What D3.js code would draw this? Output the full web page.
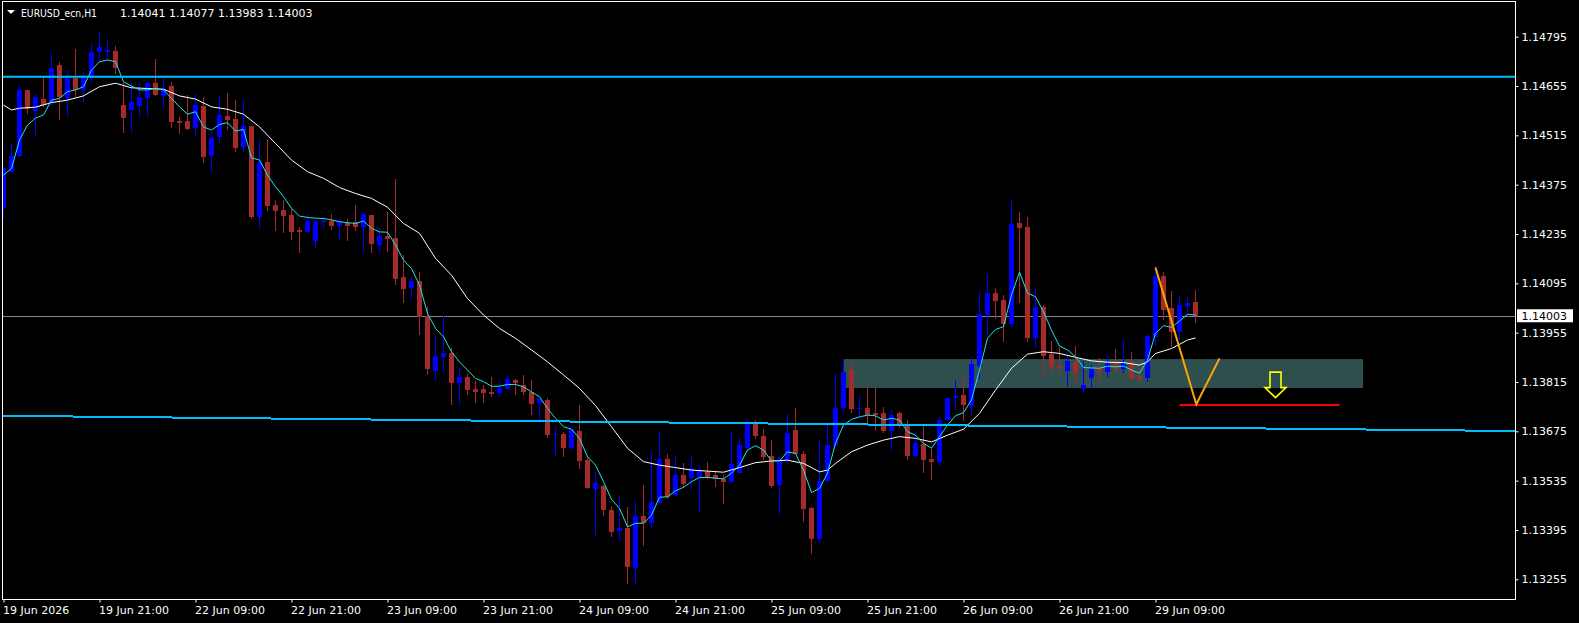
<!DOCTYPE html>
<html>
<head>
<meta charset="utf-8">
<script src="https://cdn.jsdelivr.net/npm/d3@7/dist/d3.min.js"></script>
<style>
html, body { margin: 0; padding: 0; background: #000; overflow: hidden; }
svg { display: block; font-family: "DejaVu Sans", sans-serif; font-size: 11px; }
</style>
</head>
<body>
<div id="chart"></div>
<script>

// EURUSD_ecn H1, 19 Jun 2026 09:00 .. 29 Jun 2026 13:00 (150 bars)
var opens = [
    1.14308, 1.14412, 1.14456, 1.14644, 1.14585, 1.14618, 1.14606, 1.14715, 1.14622, 1.14679,
    1.14644, 1.14679, 1.14751, 1.14752, 1.14754, 1.14601, 1.14587, 1.14599, 1.14622, 1.14664,
    1.14627, 1.14655, 1.14556, 1.14556, 1.14535, 1.14598, 1.14457, 1.14509, 1.14570, 1.14561,
    1.14483, 1.14542, 1.14284, 1.14440, 1.14317, 1.14303, 1.14289, 1.14246, 1.14241, 1.14215,
    1.14270, 1.14272, 1.14258, 1.14265, 1.14268, 1.14256, 1.14289, 1.14204, 1.14229, 1.14223,
    1.14114, 1.14082, 1.14101, 1.14003, 1.13846, 1.13887, 1.13898, 1.13813, 1.13828, 1.13795,
    1.13795, 1.13787, 1.13783, 1.13794, 1.13821, 1.13806, 1.13787, 1.13756, 1.13764, 1.13664,
    1.13667, 1.13628, 1.13676, 1.13593, 1.13511, 1.13520, 1.13451, 1.13392, 1.13401, 1.13288,
    1.13435, 1.13416, 1.13472, 1.13596, 1.13494, 1.13551, 1.13542, 1.13546, 1.13559, 1.13551,
    1.13539, 1.13532, 1.13557, 1.13628, 1.13698, 1.13662, 1.13605, 1.13522, 1.13591, 1.13679,
    1.13611, 1.13458, 1.13369, 1.13534, 1.13636, 1.13740, 1.13849, 1.13737, 1.13742, 1.13726,
    1.13728, 1.13676, 1.13726, 1.13690, 1.13605, 1.13639, 1.13596, 1.13589, 1.13707, 1.13770,
    1.13778, 1.13748, 1.13861, 1.14005, 1.14068, 1.14048, 1.13981, 1.14267, 1.14254, 1.13941,
    1.14028, 1.13894, 1.13861, 1.13846, 1.13872, 1.13795, 1.13825, 1.13854, 1.13844, 1.13870,
    1.13851, 1.13871, 1.13833, 1.13827, 1.13943, 1.14116, 1.14026, 1.13958, 1.14031, 1.14041
];
var highs = [
    1.14422, 1.14490, 1.14658, 1.14644, 1.14632, 1.14677, 1.14749, 1.14723, 1.14700, 1.14760,
    1.14691, 1.14774, 1.14805, 1.14786, 1.14769, 1.14663, 1.14663, 1.14664, 1.14667, 1.14732,
    1.14679, 1.14667, 1.14568, 1.14629, 1.14632, 1.14623, 1.14524, 1.14629, 1.14636, 1.14615,
    1.14618, 1.14542, 1.14505, 1.14502, 1.14331, 1.14331, 1.14308, 1.14256, 1.14291, 1.14275,
    1.14284, 1.14291, 1.14277, 1.14279, 1.14316, 1.14298, 1.14289, 1.14256, 1.14298, 1.14391,
    1.14175, 1.14114, 1.14128, 1.14028, 1.13946, 1.14003, 1.13911, 1.13854, 1.13838, 1.13819,
    1.13806, 1.13828, 1.13818, 1.13835, 1.13823, 1.13835, 1.13821, 1.13769, 1.13769, 1.13686,
    1.13674, 1.13683, 1.13750, 1.13605, 1.13560, 1.13522, 1.13463, 1.13488, 1.13461, 1.13477,
    1.13522, 1.13619, 1.13676, 1.13611, 1.13608, 1.13584, 1.13605, 1.13579, 1.13589, 1.13560,
    1.13551, 1.13674, 1.13657, 1.13709, 1.13707, 1.13681, 1.13650, 1.13605, 1.13724, 1.13742,
    1.13619, 1.13461, 1.13647, 1.13693, 1.13838, 1.13880, 1.13866, 1.13775, 1.13806, 1.13799,
    1.13743, 1.13735, 1.13731, 1.13707, 1.13669, 1.13690, 1.13624, 1.13715, 1.13773, 1.13821,
    1.13825, 1.13885, 1.14073, 1.14121, 1.14082, 1.14062, 1.14334, 1.14298, 1.14282, 1.14079,
    1.14033, 1.13931, 1.13915, 1.13894, 1.13918, 1.13875, 1.13863, 1.13882, 1.13891, 1.13908,
    1.13934, 1.13899, 1.13852, 1.13951, 1.14144, 1.14128, 1.14073, 1.14057, 1.14057, 1.14077
];
var lows = [
    1.14280, 1.14412, 1.14454, 1.14577, 1.14516, 1.14596, 1.14601, 1.14559, 1.14571, 1.14625,
    1.14610, 1.14663, 1.14724, 1.14729, 1.14689, 1.14521, 1.14521, 1.14568, 1.14568, 1.14627,
    1.14593, 1.14535, 1.14519, 1.14530, 1.14516, 1.14436, 1.14407, 1.14494, 1.14530, 1.14468,
    1.14468, 1.14277, 1.14248, 1.14300, 1.14244, 1.14238, 1.14218, 1.14182, 1.14237, 1.14196,
    1.14248, 1.14246, 1.14216, 1.14215, 1.14244, 1.14180, 1.14180, 1.14180, 1.14184, 1.14090,
    1.14040, 1.14050, 1.13948, 1.13835, 1.13818, 1.13844, 1.13750, 1.13750, 1.13778, 1.13756,
    1.13754, 1.13773, 1.13773, 1.13792, 1.13778, 1.13778, 1.13721, 1.13699, 1.13657, 1.13605,
    1.13603, 1.13620, 1.13568, 1.13510, 1.13376, 1.13435, 1.13376, 1.13364, 1.13241, 1.13239,
    1.13350, 1.13397, 1.13471, 1.13482, 1.13489, 1.13513, 1.13515, 1.13444, 1.13540, 1.13518,
    1.13469, 1.13530, 1.13556, 1.13627, 1.13653, 1.13593, 1.13515, 1.13437, 1.13582, 1.13611,
    1.13417, 1.13327, 1.13357, 1.13532, 1.13631, 1.13728, 1.13726, 1.13709, 1.13693, 1.13677,
    1.13669, 1.13620, 1.13683, 1.13593, 1.13601, 1.13556, 1.13537, 1.13576, 1.13705, 1.13735,
    1.13705, 1.13721, 1.13823, 1.13943, 1.13993, 1.13929, 1.13970, 1.14040, 1.13929, 1.13915,
    1.13823, 1.13840, 1.13844, 1.13801, 1.13806, 1.13786, 1.13794, 1.13813, 1.13825, 1.13844,
    1.13840, 1.13823, 1.13811, 1.13816, 1.13918, 1.13991, 1.13915, 1.13934, 1.14005, 1.13983
];
var closes = [
    1.14421, 1.14456, 1.14644, 1.14589, 1.14625, 1.14601, 1.14707, 1.14625, 1.14679, 1.14644,
    1.14679, 1.14751, 1.14765, 1.14757, 1.14707, 1.14565, 1.14609, 1.14625, 1.14664, 1.14629,
    1.14646, 1.14554, 1.14551, 1.14533, 1.14601, 1.14454, 1.14508, 1.14573, 1.14559, 1.14480,
    1.14542, 1.14284, 1.14440, 1.14315, 1.14301, 1.14287, 1.14241, 1.14241, 1.14272, 1.14272,
    1.14272, 1.14258, 1.14272, 1.14258, 1.14256, 1.14291, 1.14207, 1.14229, 1.14221, 1.14107,
    1.14079, 1.14101, 1.14000, 1.13852, 1.13889, 1.13898, 1.13813, 1.13828, 1.13792, 1.13787,
    1.13784, 1.13782, 1.13797, 1.13823, 1.13811, 1.13787, 1.13752, 1.13766, 1.13664, 1.13667,
    1.13628, 1.13681, 1.13591, 1.13515, 1.13527, 1.13451, 1.13390, 1.13402, 1.13291, 1.13435,
    1.13416, 1.13473, 1.13596, 1.13489, 1.13551, 1.13525, 1.13572, 1.13563, 1.13544, 1.13539,
    1.13532, 1.13582, 1.13636, 1.13698, 1.13662, 1.13603, 1.13520, 1.13591, 1.13669, 1.13611,
    1.13454, 1.13369, 1.13534, 1.13636, 1.13740, 1.13844, 1.13738, 1.13742, 1.13721, 1.13721,
    1.13677, 1.13721, 1.13690, 1.13605, 1.13641, 1.13593, 1.13589, 1.13707, 1.13770, 1.13775,
    1.13750, 1.13866, 1.14008, 1.14068, 1.14045, 1.13979, 1.14263, 1.14253, 1.13939, 1.14028,
    1.13889, 1.13858, 1.13856, 1.13874, 1.13841, 1.13806, 1.13851, 1.13844, 1.13870, 1.13851,
    1.13868, 1.13823, 1.13823, 1.13946, 1.14116, 1.14019, 1.13958, 1.14033, 1.14040, 1.14003
];

// fast moving average (cyan), one value per bar
var fastMa = [
    1.14402, 1.14421, 1.14502, 1.14544, 1.14564, 1.14573, 1.14615, 1.14620, 1.14639, 1.14644,
    1.14653, 1.14700, 1.14724, 1.14729, 1.14724, 1.14667, 1.14655, 1.14644, 1.14644, 1.14648,
    1.14644, 1.14620, 1.14596, 1.14575, 1.14582, 1.14539, 1.14530, 1.14546, 1.14551, 1.14527,
    1.14532, 1.14451, 1.14445, 1.14402, 1.14369, 1.14341, 1.14308, 1.14286, 1.14282, 1.14280,
    1.14279, 1.14275, 1.14270, 1.14267, 1.14265, 1.14272, 1.14251, 1.14241, 1.14240, 1.14204,
    1.14161, 1.14137, 1.14090, 1.14010, 1.13967, 1.13943, 1.13901, 1.13872, 1.13849, 1.13825,
    1.13816, 1.13803, 1.13803, 1.13808, 1.13808, 1.13801, 1.13787, 1.13773, 1.13740, 1.13712,
    1.13688, 1.13681, 1.13655, 1.13603, 1.13579, 1.13532, 1.13482, 1.13456, 1.13404, 1.13414,
    1.13414, 1.13437, 1.13488, 1.13489, 1.13506, 1.13516, 1.13532, 1.13544, 1.13544, 1.13542,
    1.13540, 1.13556, 1.13579, 1.13622, 1.13634, 1.13622, 1.13591, 1.13591, 1.13617, 1.13612,
    1.13565, 1.13501, 1.13513, 1.13556, 1.13641, 1.13693, 1.13709, 1.13716, 1.13721, 1.13719,
    1.13707, 1.13712, 1.13707, 1.13674, 1.13664, 1.13641, 1.13627, 1.13660, 1.13693, 1.13719,
    1.13728, 1.13764, 1.13849, 1.13939, 1.13964, 1.13972, 1.14062, 1.14127, 1.14067, 1.14057,
    1.14014, 1.13962, 1.13917, 1.13906, 1.13887, 1.13856, 1.13855, 1.13854, 1.13860, 1.13858,
    1.13860, 1.13849, 1.13840, 1.13877, 1.13953, 1.13975, 1.13970, 1.13988, 1.14007, 1.14005
];

// slow moving average (white), read at these bars
var slowMaIdx = [0, 1, 2, 4, 6, 8, 10, 12, 14, 16, 18, 20, 22, 24, 26, 28, 30, 32, 34, 36,
    38, 40, 42, 44, 46, 48, 50, 52, 54, 56, 58, 60, 62, 64, 66, 68, 70, 72, 74, 76,
    78, 80, 82, 84, 86, 88, 90, 92, 94, 96, 98, 100, 102, 103, 104, 106, 108, 110, 112, 114,
    116, 118, 120, 122, 124, 126, 128, 130, 132, 134, 136, 138, 140, 142, 143, 144, 146, 148, 149];
var slowMaVal = [1.14601, 1.14587, 1.14592, 1.14595, 1.14608, 1.14615, 1.14627, 1.14653, 1.14663, 1.14650,
    1.14648, 1.14646, 1.14627, 1.14618, 1.14596, 1.14589, 1.14575, 1.14539, 1.14492, 1.14445,
    1.14412, 1.14393, 1.14367, 1.14350, 1.14336, 1.14311, 1.14265, 1.14237, 1.14166, 1.14118,
    1.14052, 1.14005, 1.13967, 1.13939, 1.13906, 1.13872, 1.13835, 1.13797, 1.13748, 1.13688,
    1.13627, 1.13589, 1.13579, 1.13572, 1.13565, 1.13562, 1.13559, 1.13572, 1.13586, 1.13591,
    1.13593, 1.13584, 1.13560, 1.13565, 1.13584, 1.13617, 1.13636, 1.13650, 1.13660, 1.13655,
    1.13645, 1.13664, 1.13681, 1.13726, 1.13792, 1.13854, 1.13894, 1.13901, 1.13896, 1.13885,
    1.13875, 1.13871, 1.13870, 1.13863, 1.13872, 1.13896, 1.13910, 1.13934, 1.13940];

var priceTicks = [1.14795, 1.14655, 1.14515, 1.14375, 1.14235, 1.14095, 1.13955, 1.13815, 1.13675, 1.13535, 1.13395, 1.13255];
var timeTickIdx = [0, 12, 24, 36, 48, 60, 72, 84, 96, 108, 120, 132, 144];
var timeLabels = ["19 Jun 2026", "19 Jun 21:00", "22 Jun 09:00", "22 Jun 21:00", "23 Jun 09:00", "23 Jun 21:00",
    "24 Jun 09:00", "24 Jun 21:00", "25 Jun 09:00", "25 Jun 21:00", "26 Jun 09:00", "26 Jun 21:00", "29 Jun 09:00"];

// drawn objects
var hLinePrice = 1.14681;
var trendIdx = [0, 149], trendPrice = [1.13719, 1.13685];
var zoneIdx = [105, 170], zonePrice = [1.13880, 1.13798];
var targetIdx = [147, 167], targetPrice = 1.13750;
var zigIdx = [144, 149.1, 152], zigPrice = [1.14140, 1.13752, 1.13882];
var arrowAt = [159, 1.13843];
var symbol = "EURUSD_ecn,H1";

var width = 1579, height = 623;
var plot = {left: 2, top: 1.5, right: 1515.5, bottom: 599.5};

var svg = d3.select("#chart").append("svg")
    .attr("width", width)
    .attr("height", height);

svg.append("rect").attr("width", width).attr("height", height).attr("fill", "#000");

var x = d3.scaleLinear().domain([0, 1]).range([3.5, 11.5]);
var y = d3.scaleLinear().domain([1.13255, 1.14795]).range([579.3, 36.7]);

svg.append("clipPath").attr("id", "plotclip")
    .append("rect")
    .attr("x", plot.left + 1).attr("y", plot.top + 0.5)
    .attr("width", plot.right - plot.left - 1.5)
    .attr("height", plot.bottom - plot.top - 1);

var g = svg.append("g").attr("clip-path", "url(#plotclip)");

// zone rectangle (background)
g.append("rect")
    .attr("x", x(zoneIdx[0]) - 0.5)
    .attr("y", y(zonePrice[0]))
    .attr("width", x(zoneIdx[1]) - x(zoneIdx[0]))
    .attr("height", y(zonePrice[1]) - y(zonePrice[0]))
    .attr("fill", "#2F4F4F");

// bid line
g.append("line")
    .attr("x1", plot.left).attr("x2", plot.right)
    .attr("y1", Math.round(y(closes[closes.length - 1])) + 0.5)
    .attr("y2", Math.round(y(closes[closes.length - 1])) + 0.5)
    .attr("stroke", "#778899")
    .attr("stroke-width", 1);

// candles
var bars = d3.range(opens.length);
function barColor(i) { return closes[i] >= opens[i] ? "#0000FF" : "#A52A2A"; }

g.append("g").selectAll("line")
    .data(bars)
    .enter().append("line")
    .attr("x1", function (i) { return x(i); })
    .attr("x2", function (i) { return x(i); })
    .attr("y1", function (i) { return y(highs[i]); })
    .attr("y2", function (i) { return y(lows[i]); })
    .attr("stroke", barColor)
    .attr("stroke-width", 1)
    .attr("shape-rendering", "crispEdges");

g.append("g").selectAll("rect")
    .data(bars)
    .enter().append("rect")
    .attr("x", function (i) { return x(i) - 2.5; })
    .attr("width", 5)
    .attr("y", function (i) { return y(Math.max(opens[i], closes[i])); })
    .attr("height", function (i) { return Math.max(1, Math.abs(y(opens[i]) - y(closes[i]))); })
    .attr("fill", barColor)
    .attr("shape-rendering", "crispEdges");

// moving averages
var line = d3.line()
    .x(function (d) { return x(d[0]); })
    .y(function (d) { return y(d[1]); });

g.append("path")
    .datum(slowMaIdx.map(function (d, i) { return [d, slowMaVal[i]]; }))
    .attr("d", line)
    .attr("fill", "none")
    .attr("stroke", "#FFFFFF")
    .attr("stroke-width", 1);

g.append("path")
    .datum(fastMa.map(function (v, i) { return [i, v]; }))
    .attr("d", line)
    .attr("fill", "none")
    .attr("stroke", "#1FE5E5")
    .attr("stroke-width", 1);

// horizontal level
g.append("line")
    .attr("x1", plot.left).attr("x2", plot.right)
    .attr("y1", y(hLinePrice)).attr("y2", y(hLinePrice))
    .attr("stroke", "#00BFFF")
    .attr("stroke-width", 2);

// trendline, extended over the whole plot
var trend = d3.scaleLinear().domain(trendIdx).range(trendPrice);
var i0 = x.invert(plot.left), i1 = x.invert(plot.right);
g.append("line")
    .attr("x1", x(i0)).attr("y1", y(trend(i0)))
    .attr("x2", x(i1)).attr("y2", y(trend(i1)))
    .attr("stroke", "#00BFFF")
    .attr("stroke-width", 2)
    .attr("shape-rendering", "crispEdges");

// target line
g.append("line")
    .attr("x1", x(targetIdx[0])).attr("x2", x(targetIdx[1]))
    .attr("y1", y(targetPrice)).attr("y2", y(targetPrice))
    .attr("stroke", "#FF0000")
    .attr("stroke-width", 2);

// zigzag
g.append("path")
    .datum(zigIdx.map(function (d, i) { return [d, zigPrice[i]]; }))
    .attr("d", line)
    .attr("fill", "none")
    .attr("stroke", "#FFA500")
    .attr("stroke-width", 2);

// down arrow
var ax = x(arrowAt[0]), ay = y(arrowAt[1]);
g.append("path")
    .attr("transform", "translate(" + ax + "," + ay + ")")
    .attr("d", "M-5.5,0L5.5,0L5.5,15.5L10.5,15.5L0,25.5L-10.5,15.5L-5.5,15.5Z")
    .attr("fill", "none")
    .attr("stroke", "#FFFF00")
    .attr("stroke-width", 1.6)
    .attr("stroke-linejoin", "miter");

// frame
svg.append("path")
    .attr("d", "M" + (plot.left + 0.5) + "," + plot.top + "H" + plot.right + "V" + plot.bottom + "H" + (plot.left + 0.5) + "Z")
    .attr("fill", "none")
    .attr("stroke", "#FFFFFF")
    .attr("stroke-width", 1)
    .attr("shape-rendering", "crispEdges");

// price axis
var yAxis = d3.axisRight(y)
    .tickValues(priceTicks)
    .tickSize(3)
    .tickPadding(3)
    .tickFormat(d3.format(".5f"));

var ya = svg.append("g")
    .attr("transform", "translate(" + plot.right + ",0)")
    .call(yAxis);
ya.select(".domain").remove();
ya.selectAll("line").attr("stroke", "#FFFFFF");
ya.selectAll("text").attr("fill", "#FFFFFF").style("font-size", "11px").style("font-family", "DejaVu Sans");

// current price box
var py = y(closes[closes.length - 1]);
svg.append("rect")
    .attr("x", plot.right + 1.5)
    .attr("y", py - 6.5)
    .attr("width", 56)
    .attr("height", 13)
    .attr("fill", "#FFFFFF");
svg.append("text")
    .attr("x", plot.right + 6)
    .attr("y", py)
    .attr("dy", "0.36em")
    .attr("fill", "#000")
    .style("font-family", "DejaVu Sans")
    .text(d3.format(".5f")(closes[closes.length - 1]));

// time axis
var xAxis = d3.axisBottom(x)
    .tickValues(timeTickIdx)
    .tickSize(3)
    .tickPadding(4)
    .tickFormat(function (d, i) { return timeLabels[i]; });

var xa = svg.append("g")
    .attr("transform", "translate(0," + plot.bottom + ")")
    .call(xAxis);
xa.select(".domain").remove();
xa.selectAll("line").attr("stroke", "#FFFFFF");
xa.selectAll("text")
    .attr("fill", "#FFFFFF")
    .attr("text-anchor", "start")
    .attr("x", -1)
    .style("font-size", "11px")
    .style("font-family", "DejaVu Sans");

// header
var last = opens.length - 1;
var f5 = d3.format(".5f");
svg.append("path").attr("d", "M7,10L15,10L11,14Z").attr("fill", "#FFFFFF");
svg.append("text")
    .attr("x", 21).attr("y", 16.5)
    .attr("fill", "#FFFFFF")
    .style("font-family", "DejaVu Sans")
    .style("font-size", "11px")
    .attr("textLength", 76)
    .attr("lengthAdjust", "spacingAndGlyphs")
    .text(symbol);
svg.append("text")
    .attr("x", 120).attr("y", 16.5)
    .attr("fill", "#FFFFFF")
    .style("font-family", "DejaVu Sans")
    .style("font-size", "11px")
    .text([opens[last], highs[last], lows[last], closes[last]].map(f5).join(" "));

</script>
</body>
</html>
